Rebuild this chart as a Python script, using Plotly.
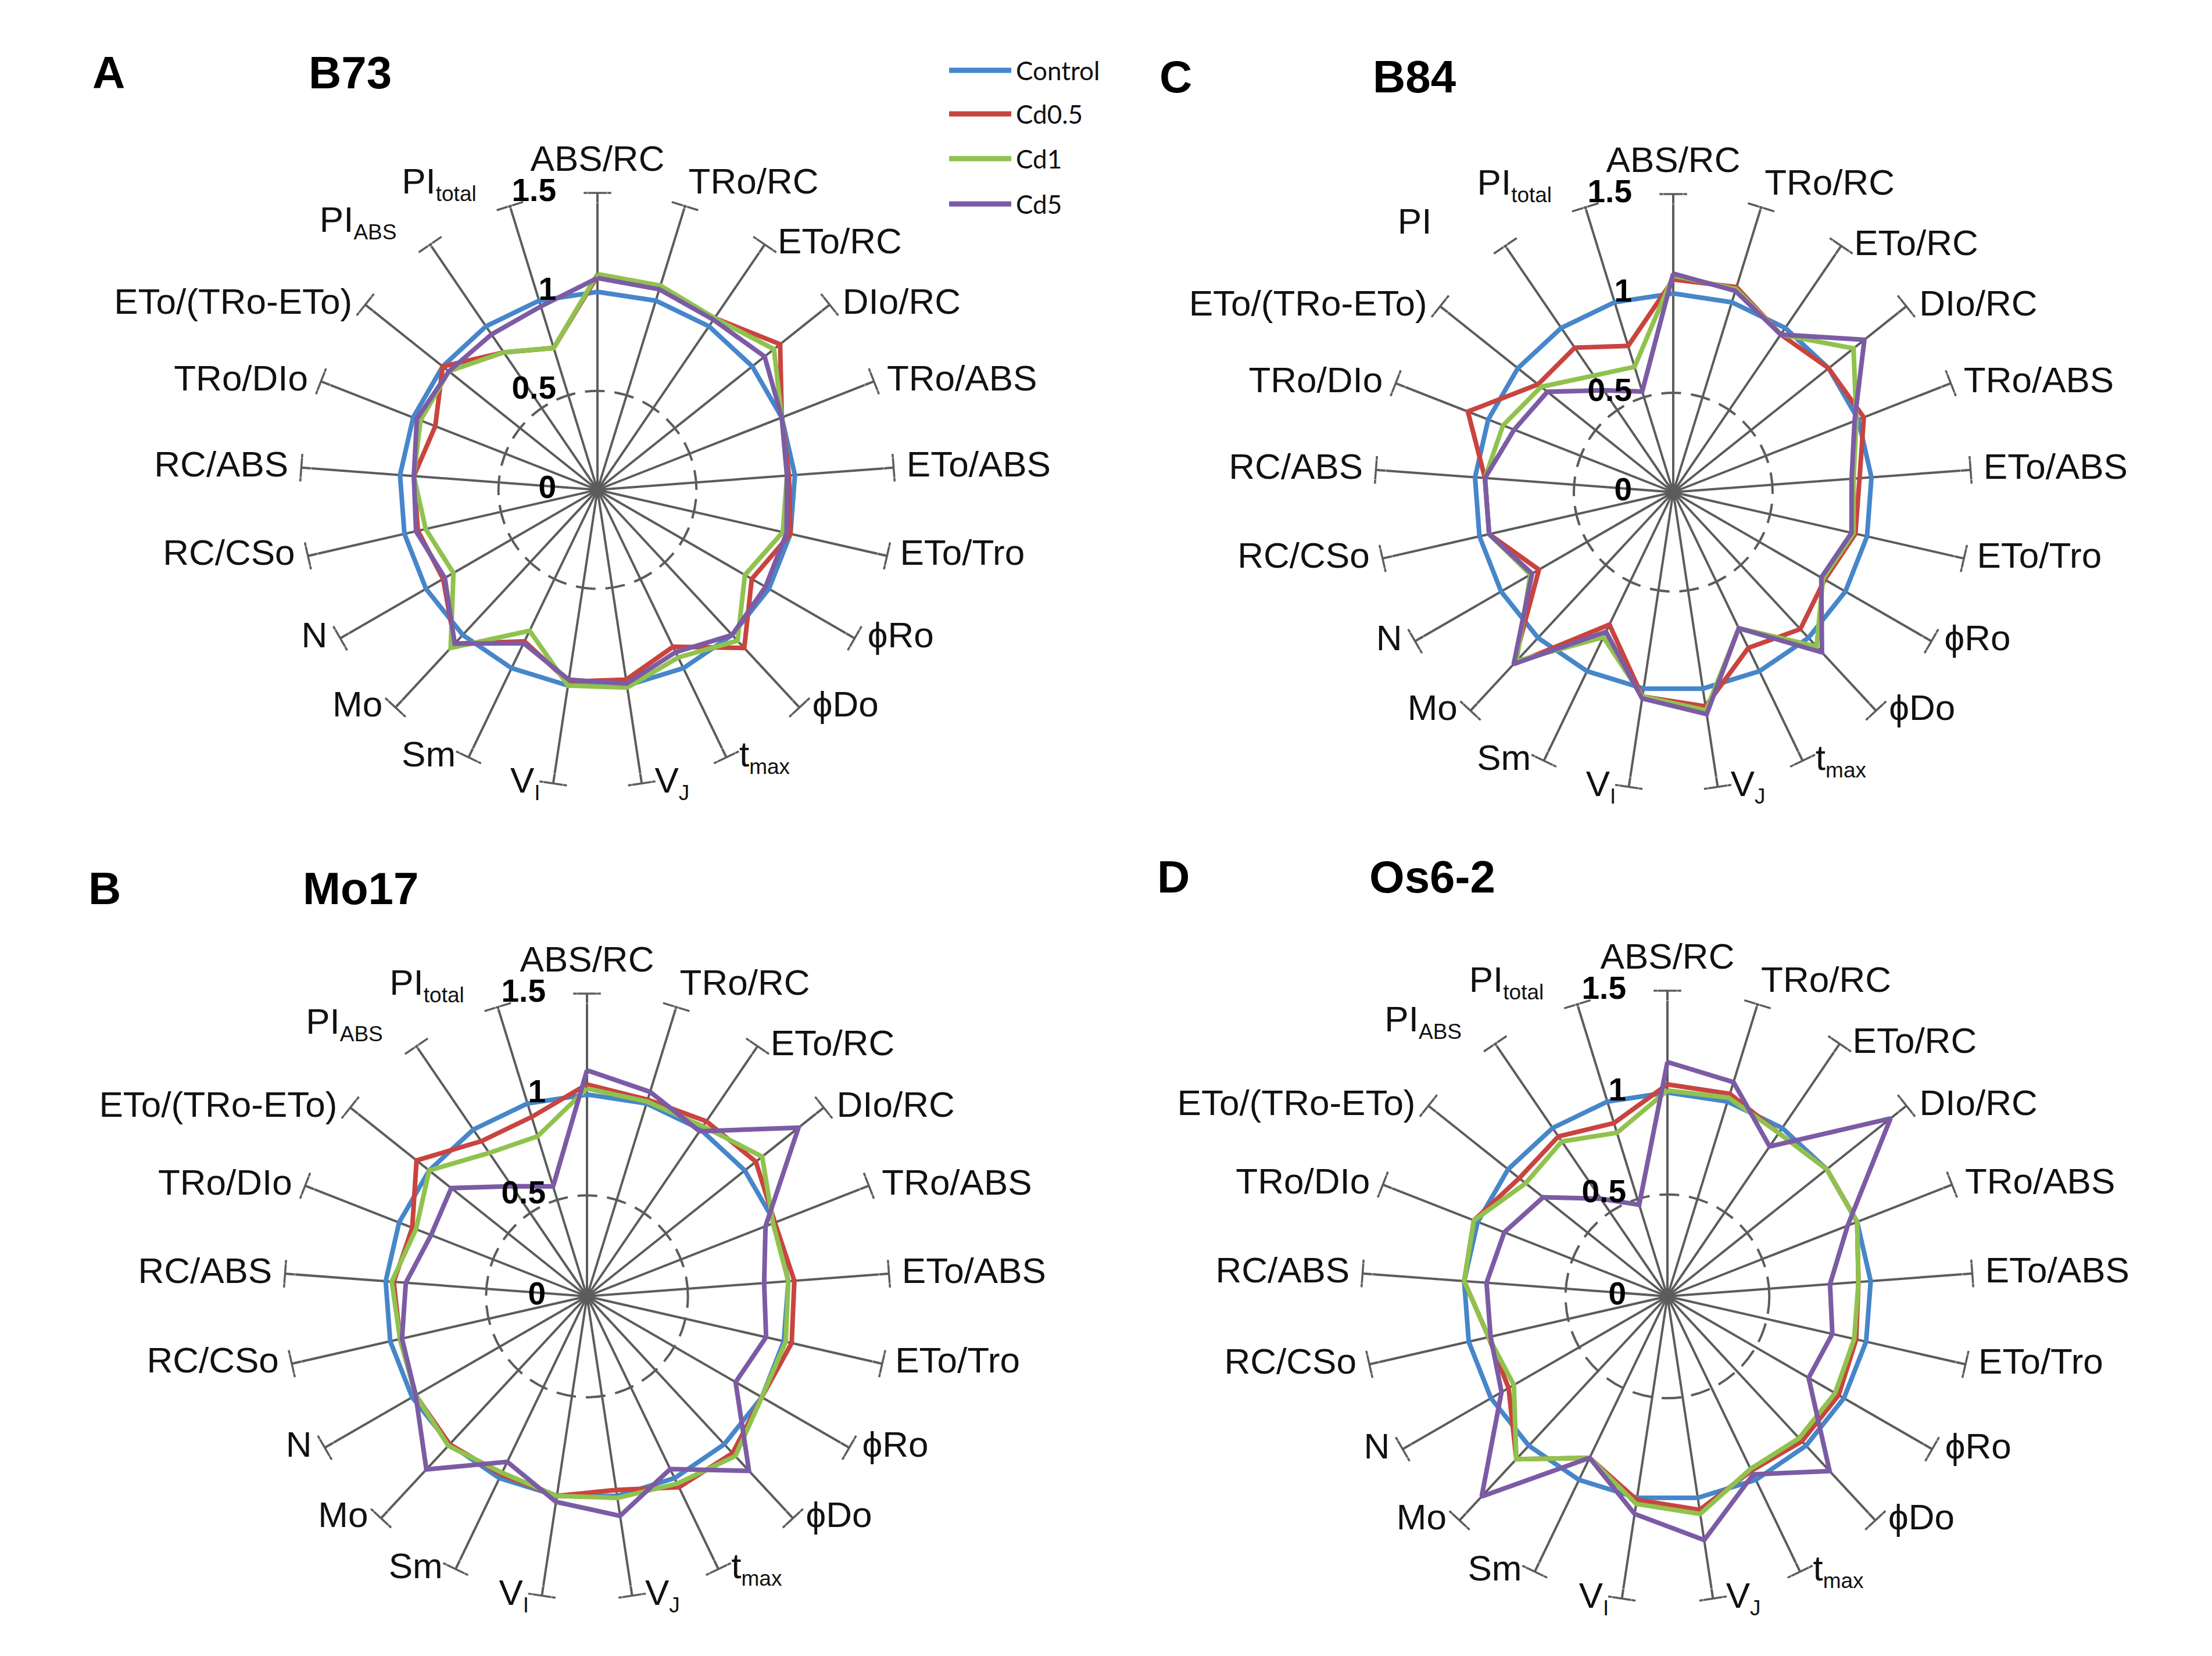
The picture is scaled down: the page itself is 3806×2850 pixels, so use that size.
import plotly.graph_objects as go

# ---------------- data ----------------
params = ["ABS/RC", "TRo/RC", "ETo/RC", "DIo/RC", "TRo/ABS", "ETo/ABS", "ETo/Tro",
          "phiRo", "phiDo", "tmax", "VJ", "VI", "Sm", "Mo", "N", "RC/CSo", "RC/ABS",
          "TRo/DIo", "ETo/(TRo-ETo)", "PIabs", "PItotal"]

SUB = '<sub><span style="font-size:37px">%s</span></sub>'
NB = "\u00a0"
tick_labels = ["ABS/RC", "TRo/RC", "ETo/RC", "DIo/RC", "TRo/ABS", "ETo/ABS", "ETo/Tro",
               "ϕRo", "ϕDo", "t" + SUB % "max", "V" + SUB % "J", "V" + SUB % "I", "Sm", "Mo", "N",
               "RC/CSo", "RC/ABS", "TRo/DIo", "ETo/(TRo-ETo)", "PI" + SUB % "ABS" + NB * 3,
               "PI" + SUB % "total" + NB * 3]

tick_labels_b84 = ["ABS/RC", "TRo/RC", "ETo/RC", "DIo/RC", "TRo/ABS", "ETo/ABS", "ETo/Tro",
                   "ϕRo", "ϕDo", "t" + SUB % "max", "V" + SUB % "J", "V" + SUB % "I", "Sm", "Mo", "N",
                   "RC/CSo", "RC/ABS", "TRo/DIo", "ETo/(TRo-ETo)", "PI" + NB * 7,
                   "PI" + SUB % "total" + NB * 3]

series_names = ["Control", "Cd0.5", "Cd1", "Cd5"]

radial_ticks = [0, 0.5, 1, 1.5]
radial_tick_text = ["0", "0.5", "1", "1.5"]

# B73 (panel A)
b73_control = [1, 1, 1, 1, 1, 1, 1, 1, 1, 1, 1, 1, 1, 1, 1, 1, 1, 1, 1, 1, 1]
b73_cd05 = [1.08, 1.07, 1.05, 1.18, 1.00, 0.97, 1.00, 0.90, 1.09, 0.88, 0.97, 0.98, 0.85, 1.06, 0.90, 0.93, 0.93, 0.88, 1.00, 0.84, 0.75]
b73_cd1 = [1.09, 1.08, 1.05, 1.14, 1.00, 0.96, 0.96, 0.86, 1.04, 0.94, 1.01, 1.00, 0.79, 1.09, 0.84, 0.89, 0.93, 0.96, 0.96, 0.84, 0.75]
b73_cd5 = [1.07, 1.06, 1.04, 1.08, 1.00, 0.96, 0.98, 0.98, 1.00, 0.91, 0.99, 0.97, 0.86, 1.06, 0.89, 0.94, 0.93, 0.98, 0.96, 0.95, 0.97]

# B84 (panel C)
b84_control = [1, 1, 1, 1, 1, 1, 1, 1, 1, 1, 1, 1, 1, 1, 1, 1, 1, 1, 1, 1, 1]
b84_cd05 = [1.07, 1.08, 0.96, 1.00, 1.03, 0.94, 0.94, 0.88, 0.94, 0.87, 1.09, 1.04, 0.74, 1.18, 0.78, 0.95, 0.95, 1.11, 0.87, 0.88, 0.77]
b84_cd1 = [1.09, 1.07, 0.96, 1.16, 0.99, 0.91, 0.93, 0.87, 1.06, 0.76, 1.11, 1.04, 0.81, 1.16, 0.83, 0.95, 0.95, 0.92, 0.85, 0.71, 0.66]
b84_cd5 = [1.10, 1.06, 0.96, 1.23, 0.98, 0.90, 0.92, 0.86, 1.10, 0.76, 1.13, 1.05, 0.78, 1.18, 0.82, 0.95, 0.95, 0.86, 0.81, 0.62, 0.53]

# Mo17 (panel B)
mo17_control = [1, 1, 1, 1, 1, 1, 1, 1, 1, 1, 1, 1, 1, 1, 1, 1, 1, 1, 1, 1, 1]
mo17_cd05 = [1.05, 1.02, 1.05, 1.07, 1.00, 1.03, 1.04, 1.00, 1.06, 1.05, 0.97, 1.00, 0.98, 1.00, 0.98, 0.95, 0.96, 0.93, 1.08, 0.93, 0.93]
mo17_cd1 = [1.03, 1.01, 1.02, 1.11, 0.99, 1.00, 1.01, 1.00, 1.08, 1.03, 1.01, 1.00, 0.97, 1.01, 0.98, 0.95, 0.97, 0.91, 1.00, 0.86, 0.83]
mo17_cd5 = [1.12, 1.06, 0.99, 1.34, 0.95, 0.88, 0.91, 0.85, 1.18, 0.95, 1.10, 1.03, 0.91, 1.17, 0.98, 0.94, 0.90, 0.83, 0.86, 0.66, 0.57]

# Os6-2 (panel D)
os62_control = [1, 1, 1, 1, 1, 1, 1, 1, 1, 1, 1, 1, 1, 1, 1, 1, 1, 1, 1, 1, 1]
os62_cd05 = [1.04, 1.04, 0.97, 1.00, 1.00, 0.94, 0.95, 0.97, 0.97, 0.95, 1.06, 1.01, 0.88, 1.09, 0.90, 0.90, 1.00, 1.02, 0.93, 0.95, 0.89]
os62_cd1 = [1.01, 1.02, 0.97, 1.00, 1.00, 0.94, 0.94, 0.95, 0.95, 0.94, 1.08, 1.03, 0.88, 1.09, 0.87, 0.90, 1.00, 1.02, 0.89, 0.92, 0.84]
os62_cd5 = [1.15, 1.10, 0.89, 1.40, 0.95, 0.80, 0.83, 0.80, 1.17, 0.97, 1.21, 1.08, 0.88, 1.34, 0.94, 0.89, 0.89, 0.86, 0.78, 0.58, 0.47]

# ---------------- style ----------------
W, H = 3806, 2850
FONT = "Liberation Sans, Arial, Helvetica, sans-serif"
LEG_FONT = "Lato, Carlito, Liberation Sans, sans-serif"
colors = ["#4686CA", "#C9443F", "#90C24E", "#7C5BA5"]
GRID = "#5c5c5c"
R_MAX = 1.5

n = len(params)
spoke_angles = [i * 360.0 / n for i in range(n)]
label_positions = (["top center", "top right"] + ["middle right"] * 9 +
                   ["middle left"] * 8 + ["top left", "top left"])
label_pads = [34, 8] + [34] * 17 + [8, 8]

panels = [
    dict(sp="polar", letter="A", title="B73", ticks=tick_labels,
         data=[b73_control, b73_cd05, b73_cd1, b73_cd5],
         c=(1020, 835), R=511, lp=(149, 117), tp=(521, 117)),
    dict(sp="polar2", letter="C", title="B84", ticks=tick_labels_b84,
         data=[b84_control, b84_cd05, b84_cd1, b84_cd5],
         c=(2871, 839), R=513, lp=(1985, 124), tp=(2352, 124)),
    dict(sp="polar3", letter="B", title="Mo17", ticks=tick_labels,
         data=[mo17_control, mo17_cd05, mo17_cd1, mo17_cd5],
         c=(1002, 2223), R=521, lp=(142, 1521), tp=(511, 1521)),
    dict(sp="polar4", letter="D", title="Os6-2", ticks=tick_labels,
         data=[os62_control, os62_cd05, os62_cd1, os62_cd5],
         c=(2861, 2223), R=526, lp=(1981, 1501), tp=(2346, 1501)),
]

fig = go.Figure()
layout_polars = {}
annotations = []

for p in panels:
    sp = p["sp"]
    cx, cy = p["c"]
    R = p["R"]
    dom_x = [(cx - R) / W, (cx + R) / W]
    dom_y = [(H - cy - R) / H, (H - cy + R) / H]
    layout_polars[sp] = dict(
        domain=dict(x=dom_x, y=dom_y),
        bgcolor="white",
        angularaxis=dict(
            type="category", categoryarray=params, direction="clockwise", rotation=90,
            showgrid=True, gridcolor=GRID, gridwidth=3.5, showline=False, ticks="",
            showticklabels=False,
        ),
        radialaxis=dict(
            range=[0, R_MAX], showgrid=True, tickvals=[0.5], gridcolor=GRID, gridwidth=3.5,
            griddash="34px,17px", showline=False, showticklabels=False, ticks="",
        ),
    )

    # T caps at the end of every spoke
    fig.add_trace(go.Scatterpolar(
        r=[R_MAX] * n, theta=params, mode="markers", subplot=sp,
        marker=dict(symbol="line-ew", size=34, angle=spoke_angles,
                    line=dict(color=GRID, width=3.5)),
        cliponaxis=False, showlegend=False, hoverinfo="skip",
    ))

    # parameter names next to the caps
    fig.add_trace(go.Scatterpolar(
        r=[R_MAX] * n, theta=params, mode="markers+text", subplot=sp,
        text=p["ticks"], textposition=label_positions,
        textfont=dict(family=FONT, size=62, color="#111111"),
        marker=dict(size=label_pads, color="rgba(0,0,0,0)"),
        cliponaxis=False, showlegend=False, hoverinfo="skip",
    ))

    # data polygons
    for name, vals, col in zip(series_names, p["data"], colors):
        fig.add_trace(go.Scatterpolar(
            r=vals + vals[:1], theta=params + params[:1], mode="lines", name=name,
            line=dict(color=col, width=8), subplot=sp, showlegend=False,
            cliponaxis=False,
        ))

    # radial tick labels
    fig.add_trace(go.Scatterpolar(
        r=radial_ticks, theta=[params[0]] * len(radial_ticks), mode="markers+text",
        text=["<b>%s</b>" % t for t in radial_tick_text], textposition="middle left",
        marker=dict(size=112, color="rgba(0,0,0,0)"),
        textfont=dict(family=FONT, size=55, color="#000000"),
        subplot=sp, cliponaxis=False, showlegend=False, hoverinfo="skip",
    ))

    lx, ly = p["lp"]
    tx, ty = p["tp"]
    annotations.append(dict(text="<b>%s</b>" % p["letter"], x=lx / W, y=1 - ly / H,
                            xref="paper", yref="paper", xanchor="left", yanchor="middle",
                            showarrow=False, font=dict(family=FONT, size=78, color="#000000")))
    annotations.append(dict(text="<b>%s</b>" % p["title"], x=tx / W, y=1 - ty / H,
                            xref="paper", yref="paper", xanchor="left", yanchor="middle",
                            showarrow=False, font=dict(family=FONT, size=78, color="#000000")))

# legend (top centre)
shapes = []
leg_rows = [113, 188, 265, 343]
for name, col, yy in zip(series_names, colors, leg_rows):
    shapes.append(dict(type="line", xref="paper", yref="paper",
                       x0=1625 / W, x1=1732 / W, y0=1 - yy / H, y1=1 - yy / H,
                       line=dict(color=col, width=9)))
    annotations.append(dict(text=name, x=1738 / W, y=1 - yy / H, xref="paper", yref="paper",
                            xanchor="left", yanchor="middle", showarrow=False,
                            font=dict(family=LEG_FONT, size=44, color="#111111")))

fig.update_layout(
    width=W, height=H, margin=dict(l=0, r=0, t=0, b=0),
    paper_bgcolor="white", plot_bgcolor="white",
    showlegend=False, annotations=annotations, shapes=shapes,
    **layout_polars,
)

fig.write_html("out.html")
